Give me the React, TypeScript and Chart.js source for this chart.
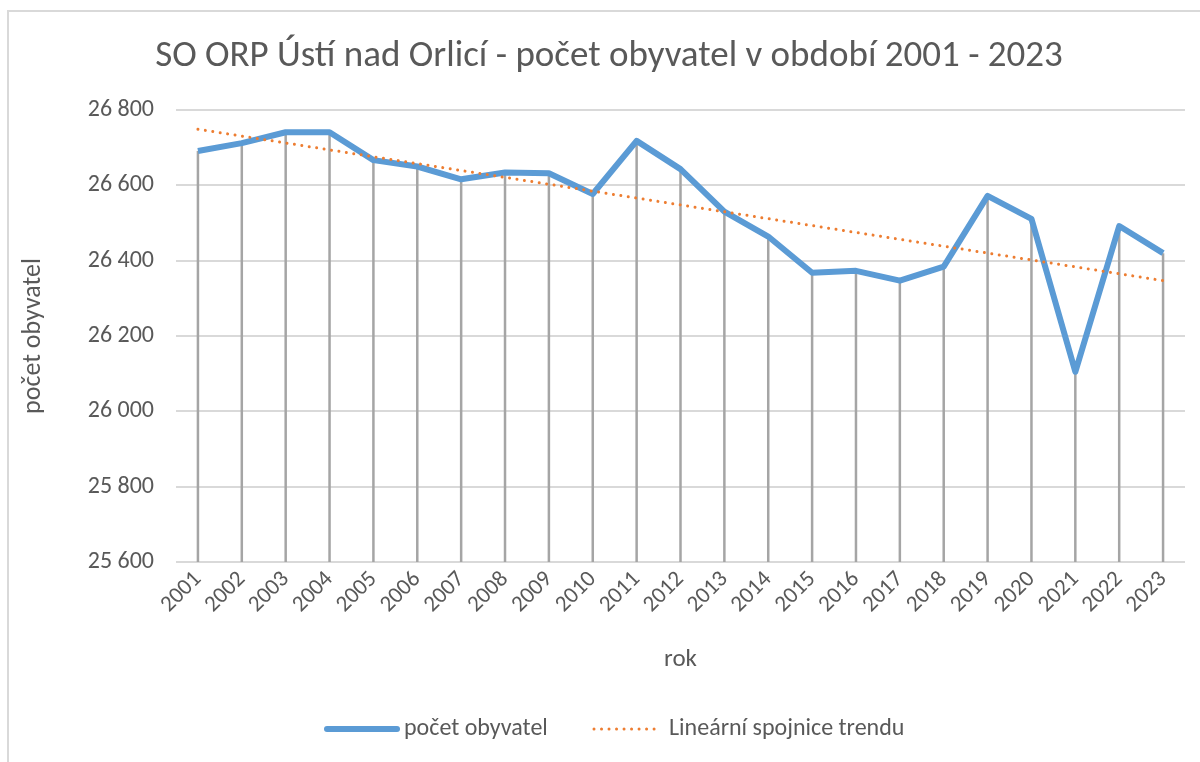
import React, { useEffect, useRef } from "react";
import { Chart, registerables } from "chart.js";

Chart.register(...registerables);

const years = [
  "2001", "2002", "2003", "2004", "2005", "2006", "2007", "2008", "2009", "2010", "2011", "2012",
  "2013", "2014", "2015", "2016", "2017", "2018", "2019", "2020", "2021", "2022", "2023",
];
const population = [
  26691, 26712, 26741, 26741, 26667, 26650, 26616, 26634, 26632, 26577, 26718, 26643,
  26530, 26464, 26368, 26373, 26347, 26384, 26572, 26511, 26105, 26492, 26420,
];
const trendYears = ["2001", "2023"];
const trendValues = [26749, 26347];
const yMin = 25600;
const yMax = 26800;
const yStep = 200;

const chartTitle = "SO ORP Ústí nad Orlicí - počet obyvatel v období 2001 - 2023";
const seriesLabel = "počet obyvatel";
const trendLabel = "Lineární spojnice trendu";
const xAxisTitle = "rok";
const yAxisTitle = "počet obyvatel";

const FONT = "Carlito, Calibri, Lato, 'Noto Sans', sans-serif";
const TEXT = "#595959";
const BLUE = "#5B9BD5";
const ORANGE = "#ED7D31";

const decorPlugin = {
  id: "decor",
  beforeDraw(chart: any) {
    const ctx = chart.ctx;
    ctx.save();
    ctx.fillStyle = "#ffffff";
    ctx.fillRect(0, 0, chart.width, chart.height);
    ctx.strokeStyle = "#d9d9d9";
    ctx.lineWidth = 2;
    ctx.beginPath();
    ctx.moveTo(8, chart.height);
    ctx.lineTo(8, 11);
    ctx.lineTo(chart.width, 11);
    ctx.stroke();
    ctx.restore();
  },
  beforeDatasetsDraw(chart: any) {
    const ctx = chart.ctx;
    const meta = chart.getDatasetMeta(0);
    const bottom = chart.chartArea.bottom;
    ctx.save();
    ctx.strokeStyle = "#a5a5a5";
    ctx.lineWidth = 2.5;
    ctx.beginPath();
    meta.data.forEach((p: any) => {
      ctx.moveTo(p.x, p.y);
      ctx.lineTo(p.x, bottom);
    });
    ctx.stroke();
    ctx.restore();
  },
  afterDraw(chart: any) {
    const ctx = chart.ctx;
    ctx.save();
    ctx.fillStyle = TEXT;
    ctx.textBaseline = "middle";
    ctx.textAlign = "center";
    ctx.font = `37px ${FONT}`;
    ctx.fillText(chartTitle, 609, 57);

    // legend
    const ly = 729;
    ctx.lineCap = "round";
    ctx.strokeStyle = BLUE;
    ctx.lineWidth = 6;
    ctx.beginPath();
    ctx.moveTo(327, ly);
    ctx.lineTo(397, ly);
    ctx.stroke();
    ctx.font = `24px ${FONT}`;
    ctx.textAlign = "left";
    ctx.fillText(seriesLabel, 404, ly);

    ctx.strokeStyle = ORANGE;
    ctx.lineWidth = 3;
    ctx.setLineDash([0.01, 7.5]);
    ctx.beginPath();
    ctx.moveTo(594, ly);
    ctx.lineTo(658, ly);
    ctx.stroke();
    ctx.setLineDash([]);
    ctx.fillText(trendLabel, 669, ly);
    ctx.restore();
  },
};

export default function App() {
  const ref = useRef<HTMLCanvasElement | null>(null);
  useEffect(() => {
    if (!ref.current) return;
    const chart = new Chart(ref.current, {
      type: "line",
      data: {
        labels: years,
        datasets: [
          {
            label: seriesLabel,
            data: population,
            borderColor: BLUE,
            backgroundColor: BLUE,
            borderWidth: 6,
            pointRadius: 0,
            tension: 0,
            borderJoinStyle: "round",
            order: 1,
          },
          {
            label: trendLabel,
            data: trendYears.map((y, i) => ({ x: y, y: trendValues[i] })),
            borderColor: ORANGE,
            backgroundColor: ORANGE,
            borderWidth: 3,
            borderDash: [0.01, 7.5],
            borderCapStyle: "round",
            pointRadius: 0,
            tension: 0,
            order: 0,
          },
        ],
      },
      options: {
        animation: false,
        responsive: false,
        devicePixelRatio: 1,
        layout: { padding: { left: 0, top: 110, right: 15, bottom: 0 } },
        plugins: {
          legend: { display: false },
          title: { display: false },
          tooltip: { enabled: false },
        },
        scales: {
          x: {
            type: "category",
            offset: true,
            grid: { display: false, drawTicks: false },
            border: { display: false },
            ticks: {
              color: TEXT,
              font: { family: FONT, size: 23 },
              minRotation: 45,
              maxRotation: 45,
              autoSkip: false,
              padding: 4,
            },
            title: {
              display: true,
              text: xAxisTitle,
              color: TEXT,
              font: { family: FONT, size: 25 },
              padding: { top: 0, bottom: 87 },
            },
            afterFit(scale: any) {
              scale.height = 200;
            },
          },
          y: {
            min: yMin,
            max: yMax,
            grid: { color: "#d9d9d9", lineWidth: 2, drawTicks: false },
            border: { display: false },
            ticks: {
              stepSize: yStep,
              color: TEXT,
              font: { family: FONT, size: 24 },
              padding: 22,
              callback: (v: any) => {
                const n = Number(v);
                const s = String(Math.round(n));
                return s.slice(0, s.length - 3) + "\u00a0" + s.slice(s.length - 3);
              },
            },
            title: {
              display: true,
              text: yAxisTitle,
              color: TEXT,
              font: { family: FONT, size: 26 },
              padding: { top: 18, bottom: 0 },
            },
            afterFit(scale: any) {
              scale.width = 176;
            },
          },
        },
      },
      plugins: [decorPlugin],
    } as any);
    return () => chart.destroy();
  }, []);
  return (
    <div style={{ position: "absolute", left: 0, top: 0, width: 1200, height: 762 }}>
      <canvas ref={ref} width={1200} height={762} style={{ width: 1200, height: 762 }} />
    </div>
  );
}
